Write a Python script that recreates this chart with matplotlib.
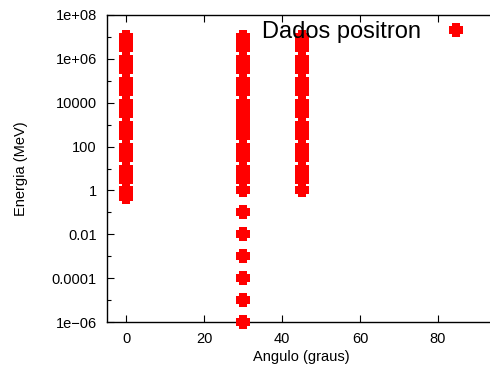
import matplotlib
matplotlib.use("Agg")
import matplotlib.pyplot as plt
from matplotlib.ticker import FixedLocator, NullFormatter

plt.rcParams['font.family'] = ['Liberation Sans', 'DejaVu Sans']

# Data: angle (degrees) and energies (MeV)
angulo_0 = 0
energia_0 = [0.5,
             1, 3, 5,
             10, 30, 50,
             100, 300, 500,
             1e3, 3e3, 5e3,
             1e4, 3e4, 5e4,
             1e5, 3e5, 5e5,
             1e6, 3e6, 5e6,
             1e7]

angulo_30 = 30
energia_30 = [1e-6, 1e-5, 1e-4, 1e-3, 1e-2, 1e-1,
              1, 3, 5,
              10, 30, 50,
              100, 300, 500,
              1e3, 2e3, 3e3, 5e3,
              1e4, 3e4, 5e4,
              1e5, 3e5, 5e5,
              1e6, 3e6, 5e6,
              1e7]

angulo_45 = 45
energia_45 = [1, 3, 5,
              10, 30, 50,
              100, 300, 500,
              1e3, 3e3, 5e3,
              1e4, 3e4, 5e4,
              1e5, 3e5, 5e5,
              1e6, 3e6, 5e6,
              1e7]

x_ticks = [0, 20, 40, 60, 80]
y_ticks = [1e-6, 1e-4, 1e-2, 1, 1e2, 1e4, 1e6, 1e8]
y_ticklabels = ['1e\u221206', '0.0001', '0.01', '1', '100', '10000', '1e+06', '1e+08']
y_minor = [1e-5, 1e-3, 1e-1, 1e1, 1e3, 1e5, 1e7]

xs = [angulo_0] * len(energia_0) + [angulo_30] * len(energia_30) + [angulo_45] * len(energia_45)
ys = energia_0 + energia_30 + energia_45

# thick filled cross marker (gnuplot style)
a = 0.57
cross = [(-a, -1), (a, -1), (a, -a), (1, -a), (1, a), (a, a), (a, 1), (-a, 1),
         (-a, a), (-1, a), (-1, -a), (-a, -a), (-a, -1)]

fig = plt.figure(figsize=(4.9, 3.75), dpi=100)
ax = fig.add_axes([106.5 / 490, 53 / 375, 390 / 490, 307 / 375])

ax.plot(xs, ys, linestyle='none', marker=cross, markersize=9.5, color='#ff0000',
        markeredgewidth=0, clip_on=False, zorder=5, label='Dados positron')

ax.set_yscale('log')
ax.set_xlim(-5, 95)
ax.set_ylim(1e-6, 1e8)

ax.xaxis.set_major_locator(FixedLocator(x_ticks))
ax.set_xticklabels([str(t) for t in x_ticks])
ax.yaxis.set_major_locator(FixedLocator(y_ticks))
ax.set_yticklabels(y_ticklabels)
ax.yaxis.set_minor_locator(FixedLocator(y_minor))
ax.yaxis.set_minor_formatter(NullFormatter())
ax.xaxis.set_minor_locator(FixedLocator([]))

ax.tick_params(axis='both', which='major', direction='in', length=5, width=0.8,
               top=True, right=True, labelsize=10.5, pad=7, colors='black')
ax.tick_params(axis='both', which='minor', direction='in', length=3, width=0.8,
               top=True, right=True)
for s in ax.spines.values():
    s.set_linewidth(1.0)
    s.set_color('black')

ax.set_xlabel('Angulo (graus)', fontsize=10.5, labelpad=3)
ax.set_ylabel('Energia (MeV)', fontsize=10.5, labelpad=17)

ax.legend(loc='upper right', bbox_to_anchor=(463 / 490, 1 - 21 / 375),
          bbox_transform=fig.transFigure, frameon=False, markerfirst=False,
          fontsize=17, handlelength=0.6, handletextpad=1.2, borderpad=0,
          borderaxespad=0)

fig.savefig('out.png', dpi=100)
